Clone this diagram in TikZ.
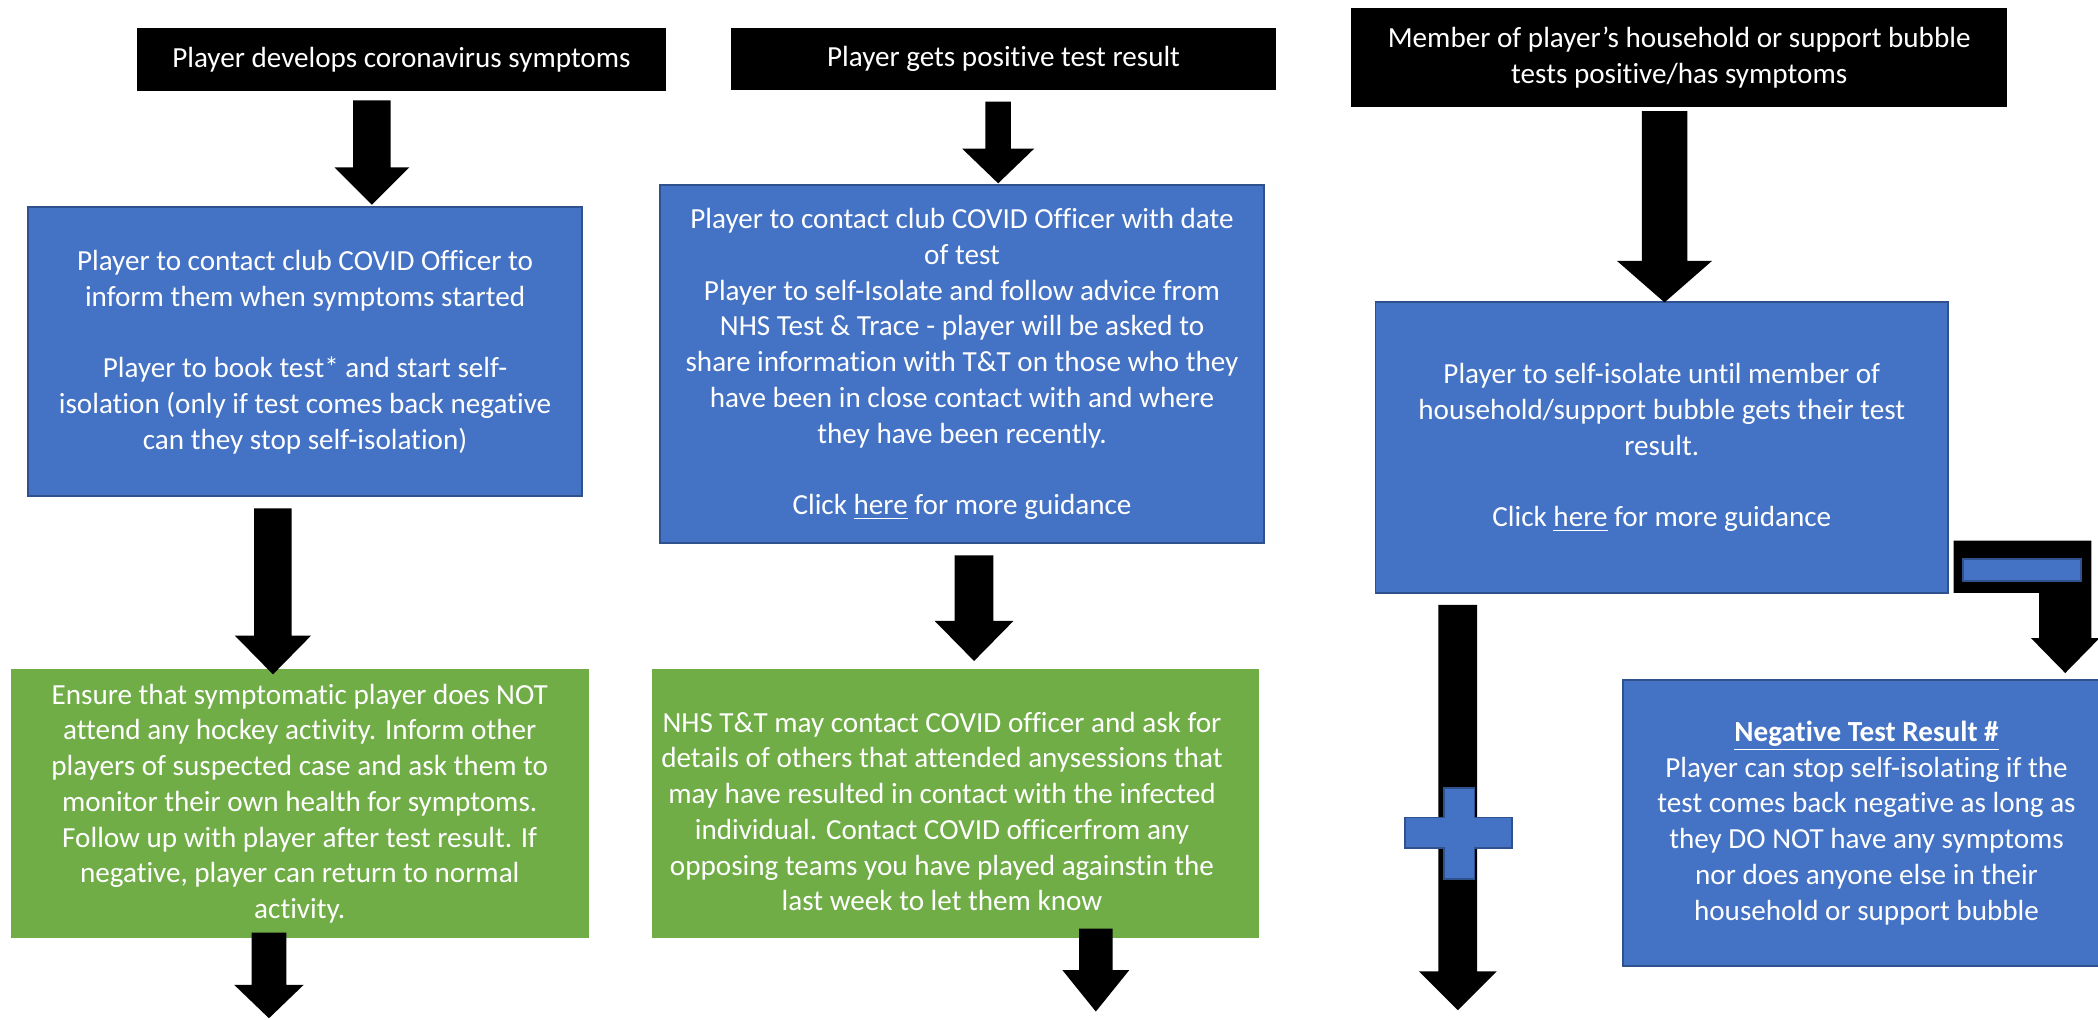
\documentclass[tikz,border=0pt]{standalone}
\usepackage{fontspec}
\setmainfont{Carlito}[Ligatures=NoCommon]
\definecolor{officeblue}{HTML}{4472C4}
\definecolor{blueedge}{HTML}{2F528F}
\definecolor{officegreen}{HTML}{70AD47}
\tikzset{
  flowbox/.style={rectangle, inner sep=0pt, align=center, text=white,
    font=\fontsize{12.4}{15.2}\selectfont},
  blackbox/.style={flowbox, fill=black},
  bluebox/.style={flowbox, fill=officeblue, draw=blueedge, line width=0.8pt},
  greenbox/.style={flowbox, fill=officegreen},
  signbox/.style={fill=officeblue, draw=blueedge, line width=0.8pt},
}
% block arrow: centre x, shaft top, head top, tip, shaft half width, head half width
\newcommand{\blockarrow}[6]{%
  \fill[black] (#1-#5,#2) -- (#1+#5,#2) -- (#1+#5,#3) -- (#1+#6,#3)
    -- (#1,#4) -- (#1-#6,#3) -- (#1-#5,#3) -- cycle;}
\begin{document}
\begin{tikzpicture}[x=0.02cm,y=-0.02cm]
    \useasboundingbox[fill=white] (0,0) rectangle (1568,762);

    % Starting events
    \node[blackbox, minimum width=7.92cm, minimum height=0.94cm] (symptoms) at (300,44.5)
        {Player develops coronavirus symptoms};
    \node[blackbox, minimum width=8.16cm, minimum height=0.92cm] (positive) at (750,44)
        {Player gets positive test result};
    \node[blackbox, minimum width=9.8cm, minimum height=1.48cm] (household) at (1255,43)
        {Member of player’s household or support bubble\\tests positive/has symptoms};

    % Player actions
    \node[bluebox, minimum width=8.28cm, minimum height=4.32cm] (booktest) at (228,263)
        {Player to contact club COVID Officer to\\inform them when symptoms started\\[15.2pt]
         Player to book test* and start self-\\isolation (only if test comes back negative\\can they stop self-isolation)};
    \node[bluebox, minimum width=9.04cm, minimum height=5.36cm] (isolate) at (719,272)
        {Player to contact club COVID Officer with date\\of test\\Player to self-Isolate and follow advice from\\
         NHS Test \& Trace - player will be asked to\\share information with T\&T on those who they\\
         have been in close contact with and where\\they have been recently.\\[15.2pt]
         Click \underline{here} for more guidance};
    \node[bluebox, minimum width=8.56cm, minimum height=4.34cm] (wait) at (1242,334.5)
        {Player to self-isolate until member of\\household/support bubble gets their test\\result.\\[15.2pt]
         Click \underline{here} for more guidance};

    % Club actions
    \node[greenbox, minimum width=8.64cm, minimum height=4.02cm] (ensure) at (224,600.5)
        {Ensure that symptomatic player does NOT\\attend any hockey activity. Inform other\\
         players of suspected case and ask them to\\monitor their own health for symptoms.\\
         Follow up with player after test result. If\\negative, player can return to normal\\activity.};
    \node[greenbox, minimum width=9.08cm, minimum height=4.02cm] (tracing) at (714,600.5) {};
    \node[flowbox] at ([shift={(-10,6)}]tracing.center)
        {NHS T\&T may contact COVID officer and ask for\\details of others that attended anysessions that\\
         may have resulted in contact with the infected\\individual. Contact COVID officerfrom any\\
         opposing teams you have played againstin the\\last week to let them know};
    \node[bluebox, minimum width=7.28cm, minimum height=4.28cm] (negative) at (1395,615)
        {\textbf{\underline{Negative Test Result \#}}\\Player can stop self-isolating if the\\
         test comes back negative as long as\\they DO NOT have any symptoms\\
         nor does anyone else in their\\household or support bubble};

    % Arrows, column 1
    \blockarrow{278}{75}{125}{153}{14}{28}
    \blockarrow{204}{380}{475}{504}{14}{28.5}
    \blockarrow{201}{697}{736}{761}{13}{26}

    % Arrows, column 2
    \blockarrow{746}{76}{111}{137}{9.5}{27}
    \blockarrow{728}{415}{464}{494}{14.5}{29.5}
    \blockarrow{819}{694}{725}{756}{12.5}{25}

    % Arrows, column 3
    \blockarrow{1244}{83}{195}{226}{17}{35.5}
    \blockarrow{1089.5}{452}{726}{755}{14.5}{29}
    \fill[black] (1460,404) -- (1563,404) -- (1563,477) -- (1569,477) -- (1543.5,503)
        -- (1518,477) -- (1524,477) -- (1524,443) -- (1460,443) -- cycle;

    % Plus and minus signs
    \draw[signbox] (1467,418) rectangle (1555,434);
    \draw[signbox] (1079,589) -- (1102,589) -- (1102,611) -- (1130,611) -- (1130,634)
        -- (1102,634) -- (1102,657) -- (1079,657) -- (1079,634) -- (1050,634)
        -- (1050,611) -- (1079,611) -- cycle;
\end{tikzpicture}
\end{document}
